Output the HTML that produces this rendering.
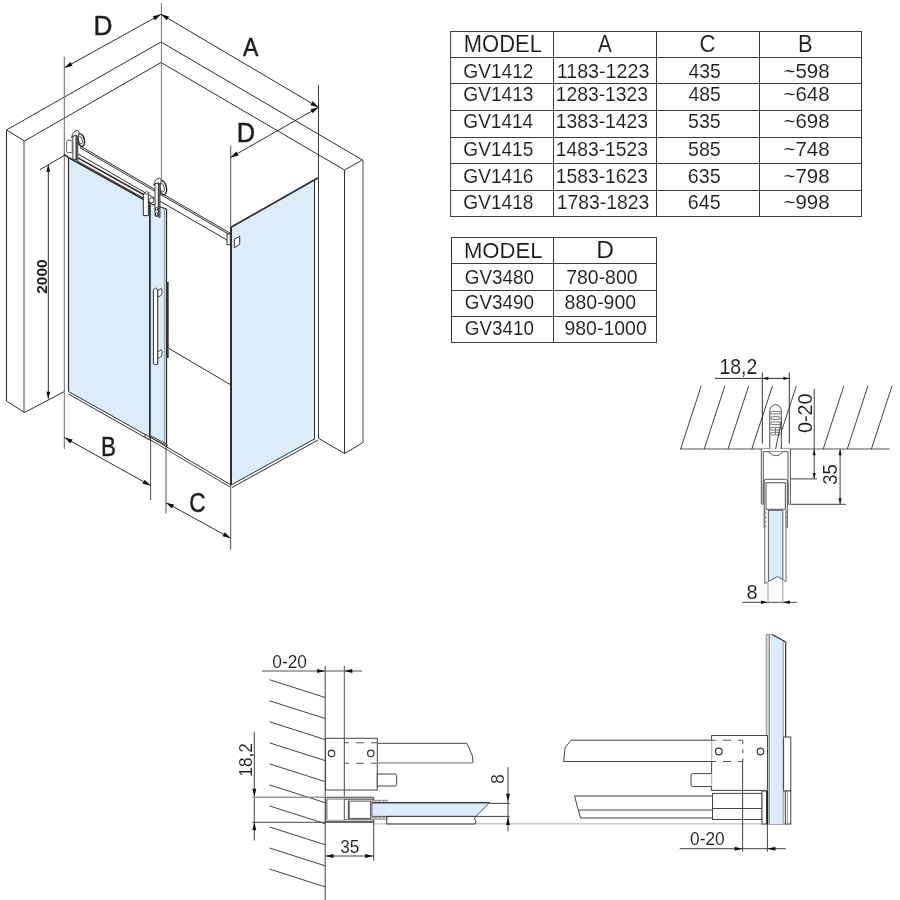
<!DOCTYPE html>
<html><head><meta charset="utf-8"><style>
html,body{margin:0;padding:0;background:#fff;width:900px;height:900px;overflow:hidden}
svg{display:block;position:absolute;left:0;top:0}
text{font-family:"Liberation Sans",sans-serif}
#ov{will-change:transform}
</style></head><body>
<svg width="900" height="900" viewBox="0 0 900 900">
<rect width="900" height="900" fill="#fff"/>
<line x1="450.60" y1="31.00" x2="450.60" y2="217.00" stroke="#3c3c3c" stroke-width="1"/>
<line x1="553.50" y1="31.00" x2="553.50" y2="217.00" stroke="#3c3c3c" stroke-width="1"/>
<line x1="656.50" y1="31.00" x2="656.50" y2="217.00" stroke="#3c3c3c" stroke-width="1"/>
<line x1="759.50" y1="31.00" x2="759.50" y2="217.00" stroke="#3c3c3c" stroke-width="1"/>
<line x1="861.50" y1="31.00" x2="861.50" y2="217.00" stroke="#3c3c3c" stroke-width="1"/>
<line x1="450.60" y1="31.50" x2="861.50" y2="31.50" stroke="#3c3c3c" stroke-width="1"/>
<line x1="450.60" y1="57.50" x2="861.50" y2="57.50" stroke="#3c3c3c" stroke-width="1"/>
<line x1="450.60" y1="83.50" x2="861.50" y2="83.50" stroke="#3c3c3c" stroke-width="1"/>
<line x1="450.60" y1="110.50" x2="861.50" y2="110.50" stroke="#3c3c3c" stroke-width="1"/>
<line x1="450.60" y1="137.50" x2="861.50" y2="137.50" stroke="#3c3c3c" stroke-width="1"/>
<line x1="450.60" y1="163.50" x2="861.50" y2="163.50" stroke="#3c3c3c" stroke-width="1"/>
<line x1="450.60" y1="190.50" x2="861.50" y2="190.50" stroke="#3c3c3c" stroke-width="1"/>
<line x1="450.60" y1="216.50" x2="861.50" y2="216.50" stroke="#3c3c3c" stroke-width="1"/>




























<line x1="451.50" y1="237.00" x2="451.50" y2="343.00" stroke="#3c3c3c" stroke-width="1"/>
<line x1="553.50" y1="237.00" x2="553.50" y2="343.00" stroke="#3c3c3c" stroke-width="1"/>
<line x1="656.50" y1="237.00" x2="656.50" y2="343.00" stroke="#3c3c3c" stroke-width="1"/>
<line x1="451.50" y1="237.50" x2="656.50" y2="237.50" stroke="#3c3c3c" stroke-width="1"/>
<line x1="451.50" y1="263.50" x2="656.50" y2="263.50" stroke="#3c3c3c" stroke-width="1"/>
<line x1="451.50" y1="290.50" x2="656.50" y2="290.50" stroke="#3c3c3c" stroke-width="1"/>
<line x1="451.50" y1="316.50" x2="656.50" y2="316.50" stroke="#3c3c3c" stroke-width="1"/>
<line x1="451.50" y1="342.50" x2="656.50" y2="342.50" stroke="#3c3c3c" stroke-width="1"/>








<polygon points="68.50,157.50 149.50,202.70 149.50,437.00 68.50,391.50" fill="#dcecfa" stroke="none" stroke-width="1"/>
<polygon points="150.50,203.50 166.30,209.00 166.30,444.00 150.50,437.50" fill="#dcecfa" stroke="none" stroke-width="1"/>
<polygon points="231.00,227.30 314.50,179.80 314.50,438.90 231.00,485.00" fill="#dcecfa" stroke="none" stroke-width="1"/>
<polyline points="6.50,130.00 161.00,42.00 362.50,160.00" stroke="#2e2e2e" stroke-width="1" fill="none" stroke-linejoin="round"/>
<polyline points="24.50,141.00 161.00,62.50 344.50,170.00" stroke="#2e2e2e" stroke-width="1" fill="none" stroke-linejoin="round"/>
<line x1="6.50" y1="130.00" x2="24.50" y2="141.00" stroke="#2e2e2e" stroke-width="1"/>
<line x1="344.50" y1="170.00" x2="362.50" y2="160.00" stroke="#2e2e2e" stroke-width="1"/>
<line x1="6.50" y1="130.00" x2="6.50" y2="401.00" stroke="#2e2e2e" stroke-width="1"/>
<line x1="24.00" y1="141.00" x2="24.00" y2="412.50" stroke="#555" stroke-width="1.1"/>
<polyline points="6.50,401.00 24.50,412.50 64.50,391.50" stroke="#2e2e2e" stroke-width="1" fill="none" stroke-linejoin="round"/>
<line x1="363.00" y1="160.00" x2="363.00" y2="443.00" stroke="#5a5a5a" stroke-width="1.1"/>
<line x1="344.50" y1="170.00" x2="344.50" y2="453.50" stroke="#2e2e2e" stroke-width="1"/>
<polyline points="318.50,438.30 344.50,453.50 362.70,442.80" stroke="#2e2e2e" stroke-width="1" fill="none" stroke-linejoin="round"/>
<line x1="169.00" y1="348.50" x2="231.00" y2="385.00" stroke="#2e2e2e" stroke-width="1"/>
<line x1="161.40" y1="3.00" x2="161.40" y2="179.00" stroke="#777" stroke-width="1"/>
<line x1="161.00" y1="14.30" x2="64.50" y2="67.80" stroke="#2e2e2e" stroke-width="1"/>
<polygon points="161.00,14.30 155.12,20.19 152.89,16.17" fill="#111"/>
<polygon points="64.50,67.80 70.38,61.91 72.61,65.93" fill="#111"/>
<line x1="161.00" y1="14.30" x2="318.50" y2="107.30" stroke="#2e2e2e" stroke-width="1"/>
<polygon points="161.00,14.30 169.06,16.39 166.72,20.35" fill="#111"/>
<polygon points="318.50,107.30 310.44,105.21 312.78,101.25" fill="#111"/>
<line x1="64.30" y1="56.50" x2="64.30" y2="449.00" stroke="#6a6a6a" stroke-width="1"/>
<line x1="318.50" y1="85.00" x2="318.50" y2="438.30" stroke="#3a3a3a" stroke-width="1"/>
<line x1="230.50" y1="157.50" x2="318.50" y2="107.30" stroke="#2e2e2e" stroke-width="1"/>
<polygon points="230.50,157.50 236.31,151.54 238.59,155.53" fill="#111"/>
<polygon points="318.50,107.30 312.69,113.26 310.41,109.27" fill="#111"/>
<line x1="230.70" y1="145.50" x2="230.70" y2="550.00" stroke="#505050" stroke-width="1"/>



<line x1="48.30" y1="164.80" x2="48.30" y2="398.80" stroke="#2e2e2e" stroke-width="1"/>
<polygon points="48.30,164.80 50.30,171.80 46.30,171.80" fill="#111"/>
<polygon points="48.30,398.80 46.30,391.80 50.30,391.80" fill="#111"/>
<line x1="40.00" y1="169.70" x2="65.00" y2="155.00" stroke="#2e2e2e" stroke-width="1"/>

<line x1="64.50" y1="437.60" x2="150.60" y2="485.60" stroke="#2e2e2e" stroke-width="1"/>
<polygon points="64.50,437.60 72.61,439.49 70.37,443.50" fill="#111"/>
<polygon points="150.60,485.60 142.49,483.71 144.73,479.70" fill="#111"/>
<line x1="150.60" y1="437.00" x2="150.60" y2="500.00" stroke="#505050" stroke-width="1"/>

<line x1="166.00" y1="502.70" x2="230.70" y2="538.20" stroke="#2e2e2e" stroke-width="1"/>
<polygon points="166.00,502.70 174.12,504.53 171.91,508.56" fill="#111"/>
<polygon points="230.70,538.20 222.58,536.37 224.79,532.34" fill="#111"/>
<line x1="166.00" y1="444.00" x2="166.00" y2="513.50" stroke="#505050" stroke-width="1"/>

<line x1="68.50" y1="157.50" x2="68.50" y2="391.50" stroke="#2e2e2e" stroke-width="1.2"/>
<line x1="149.60" y1="202.50" x2="149.60" y2="437.00" stroke="#2e2e2e" stroke-width="1.2"/>
<line x1="150.30" y1="203.50" x2="150.30" y2="437.50" stroke="#2e2e2e" stroke-width="0.9"/>
<line x1="166.50" y1="209.00" x2="166.50" y2="444.00" stroke="#2e2e2e" stroke-width="1.3"/>
<line x1="164.40" y1="208.50" x2="164.40" y2="443.00" stroke="#888" stroke-width="0.8"/>
<line x1="231.00" y1="227.30" x2="231.00" y2="485.00" stroke="#2e2e2e" stroke-width="2"/>
<line x1="314.50" y1="179.80" x2="314.50" y2="438.90" stroke="#2e2e2e" stroke-width="1"/>
<line x1="314.50" y1="179.80" x2="318.50" y2="177.60" stroke="#2e2e2e" stroke-width="1"/>
<line x1="68.50" y1="157.50" x2="150.00" y2="203.00" stroke="#2e2e2e" stroke-width="1.6"/>
<line x1="150.50" y1="203.50" x2="166.50" y2="209.00" stroke="#2e2e2e" stroke-width="1.3"/>
<line x1="231.00" y1="227.30" x2="317.70" y2="178.00" stroke="#2e2e2e" stroke-width="1.7"/>
<line x1="68.50" y1="391.50" x2="149.60" y2="437.00" stroke="#2e2e2e" stroke-width="1"/>
<line x1="68.50" y1="394.00" x2="149.60" y2="440.00" stroke="#2e2e2e" stroke-width="1"/>
<line x1="150.00" y1="437.00" x2="231.00" y2="485.00" stroke="#2e2e2e" stroke-width="1"/>
<line x1="150.00" y1="439.70" x2="230.00" y2="487.00" stroke="#2e2e2e" stroke-width="0.9"/>
<line x1="231.00" y1="485.00" x2="315.00" y2="438.70" stroke="#2e2e2e" stroke-width="1"/>
<line x1="232.00" y1="487.50" x2="318.00" y2="440.00" stroke="#2e2e2e" stroke-width="1"/>
<path d="M145,434.5 L149.6,437 L149.6,439.5 L145,437 Z" stroke="#2e2e2e" stroke-width="0.8" fill="#fff" />
<path d="M151,436 L166.5,444 L167.5,446 L152,438 Z" stroke="#2e2e2e" stroke-width="0.9" fill="#fff" />
<line x1="80.00" y1="145.87" x2="230.30" y2="233.30" stroke="#2e2e2e" stroke-width="1"/>
<line x1="80.00" y1="147.67" x2="230.30" y2="235.10" stroke="#2e2e2e" stroke-width="1"/>
<line x1="78.00" y1="153.87" x2="227.00" y2="240.00" stroke="#2e2e2e" stroke-width="1"/>
<line x1="77.50" y1="157.60" x2="143.50" y2="194.56" stroke="#2e2e2e" stroke-width="1.6"/>
<line x1="77.50" y1="161.10" x2="143.50" y2="198.06" stroke="#2e2e2e" stroke-width="1"/>
<rect x="227.00" y="234.00" width="3.30" height="10.70" stroke="#2e2e2e" stroke-width="1" fill="#fff" />
<polygon points="234.30,239.30 239.70,236.30 239.70,244.30 234.30,247.70" stroke="#2e2e2e" stroke-width="1" fill="#fff" stroke-linejoin="round"/>
<ellipse cx="81.0" cy="140.2" rx="3.4" ry="6.4" transform="rotate(-12 81.0 140.2)" fill="#fff" stroke="#222" stroke-width="1.4"/>
<ellipse cx="80.4" cy="140.2" rx="1.87" ry="3.84" transform="rotate(-12 81.0 140.2)" fill="none" stroke="#444" stroke-width="0.9"/>
<path d="M76.0,135.2 L77.8,136.7 L77.8,160.7 L76.0,159.7 Z" stroke="#2a2a2a" stroke-width="0.8" fill="#8a8a8a" />
<path d="M72.9,136.2 L76.0,135.2 L76.0,159.7 L72.9,159.2 Z" stroke="#2a2a2a" stroke-width="0.9" fill="#fff" />
<path d="M71.7,137.7 Q72.4,131.2 77.0,130.39999999999998 Q80.3,131.0 78.1,136.7 L76.0,135.2 L72.9,136.2 Z" stroke="#2a2a2a" stroke-width="0.9" fill="#fff" />
<path d="M67.8,140.3 L71.2,140.3 Q72.2,140.3 72.2,141.3 L72.2,152.6 L67.6,152.6 Q66.7,152.6 66.7,151.6 L66.7,141.3 Q66.7,140.3 67.8,140.3 Z" stroke="#555" stroke-width="0.9" fill="#fff" />
<line x1="64.00" y1="154.30" x2="68.50" y2="157.50" stroke="#2e2e2e" stroke-width="1.6"/>
<path d="M143.3,215.6 L143.3,194 L146,192.2 L148.3,194 L148.3,215.6 Z" stroke="#2e2e2e" stroke-width="1" fill="#fff" />
<path d="M143.3,194 L146.5,191.5 L149.5,193 L148.3,194 Z" stroke="#2e2e2e" stroke-width="0.8" fill="#fff" />
<ellipse cx="151.4" cy="200.3" rx="2.4" ry="2.5" fill="#fff" stroke="#333" stroke-width="0.9"/>
<ellipse cx="162.7" cy="187.6" rx="3.7" ry="7.2" transform="rotate(-12 162.7 187.6)" fill="#fff" stroke="#222" stroke-width="1.4"/>
<ellipse cx="162.1" cy="187.6" rx="2.035" ry="4.32" transform="rotate(-12 162.7 187.6)" fill="none" stroke="#444" stroke-width="0.9"/>
<path d="M158.3,182.8 L160.0,184.3 L160.0,217.5 L158.3,216.5 Z" stroke="#2a2a2a" stroke-width="0.8" fill="#8a8a8a" />
<path d="M155.0,183.8 L158.3,182.8 L158.3,216.5 L155.0,216.0 Z" stroke="#2a2a2a" stroke-width="0.9" fill="#fff" />
<path d="M153.8,185.3 Q154.5,178.8 159.3,178.0 Q162.5,178.60000000000002 160.3,184.3 L158.3,182.8 L155.0,183.8 Z" stroke="#2a2a2a" stroke-width="0.9" fill="#fff" />
<circle cx="156.6" cy="208.9" r="1.3" stroke="#222" stroke-width="0.9" fill="none"/>
<circle cx="156.6" cy="214.2" r="1.3" stroke="#222" stroke-width="0.9" fill="none"/>
<path d="M157.7,290.5 L161.3,288.6 Q162.3,289.5 162,292.5 L161.3,295.3 L157.7,297.2 Z" stroke="#2e2e2e" stroke-width="0.9" fill="#fff" />
<path d="M157.7,351.8 L161.3,349.9 Q162.3,350.8 162,353.8 L161.3,356.6 L157.7,358.5 Z" stroke="#2e2e2e" stroke-width="0.9" fill="#fff" />
<path d="M153.4,289.8 L155.5,288.2 L157.7,289.5 L157.7,364.2 L155.5,364.6 L153.4,363.8 Z" stroke="#2e2e2e" stroke-width="1" fill="#fff" />
<line x1="167.80" y1="282.00" x2="167.80" y2="358.00" stroke="#333" stroke-width="1.8"/>
<line x1="680.00" y1="449.00" x2="889.50" y2="449.00" stroke="#555" stroke-width="1"/>
<line x1="701.20" y1="386.00" x2="680.60" y2="449.00" stroke="#2e2e2e" stroke-width="0.9"/>
<line x1="724.80" y1="386.00" x2="704.20" y2="449.00" stroke="#2e2e2e" stroke-width="0.9"/>
<line x1="748.60" y1="386.00" x2="728.00" y2="449.00" stroke="#2e2e2e" stroke-width="0.9"/>
<line x1="772.40" y1="386.00" x2="751.80" y2="449.00" stroke="#2e2e2e" stroke-width="0.9"/>
<line x1="796.30" y1="386.00" x2="775.70" y2="449.00" stroke="#2e2e2e" stroke-width="0.9"/>
<line x1="843.80" y1="386.00" x2="823.20" y2="449.00" stroke="#2e2e2e" stroke-width="0.9"/>
<line x1="867.90" y1="386.00" x2="847.30" y2="449.00" stroke="#2e2e2e" stroke-width="0.9"/>
<line x1="892.00" y1="386.00" x2="871.40" y2="449.00" stroke="#2e2e2e" stroke-width="0.9"/>
<path d="M769.8,449 L769.8,410.5 A5.75,5.75 0 0 1 781.3,410.5 L781.3,449" stroke="#444" stroke-width="1" fill="#fff" />
<rect x="770.80" y="411.40" width="9.50" height="2.60" stroke="#555" stroke-width="0.8" fill="none"  rx="1.3"/>
<rect x="770.80" y="416.70" width="9.50" height="2.60" stroke="#555" stroke-width="0.8" fill="none"  rx="1.3"/>
<rect x="770.80" y="422.00" width="9.50" height="2.60" stroke="#555" stroke-width="0.8" fill="none"  rx="1.3"/>
<rect x="770.80" y="427.40" width="9.50" height="2.60" stroke="#555" stroke-width="0.8" fill="none"  rx="1.3"/>
<rect x="770.80" y="432.30" width="9.50" height="2.60" stroke="#555" stroke-width="0.8" fill="none"  rx="1.3"/>
<line x1="775.50" y1="427.50" x2="775.50" y2="434.50" stroke="#555" stroke-width="0.8"/>
<line x1="781.30" y1="421.50" x2="775.60" y2="449.00" stroke="#2e2e2e" stroke-width="0.9"/>
<line x1="715.00" y1="378.40" x2="789.30" y2="378.40" stroke="#2e2e2e" stroke-width="1"/>
<polygon points="762.30,378.40 768.30,376.80 768.30,380.00" fill="#111"/>
<polygon points="789.30,378.40 783.30,380.00 783.30,376.80" fill="#111"/>
<line x1="762.30" y1="372.60" x2="762.30" y2="443.50" stroke="#2e2e2e" stroke-width="1"/>
<line x1="789.30" y1="372.60" x2="789.30" y2="443.50" stroke="#2e2e2e" stroke-width="1"/>

<path d="M761.3,449 L761.3,503 Q761.3,504.5 762.3,504.5 Q763.3,504.5 763.3,503 L763.3,451.7 L788,451.7 L788,503 Q788,504.5 789.2,504.5 Q790.4,504.5 790.4,503 L790.4,449" stroke="#555" stroke-width="1" fill="#fff" />
<path d="M768.7,451.7 Q776,460 783.3,451.7" stroke="#555" stroke-width="1" fill="#fff" />
<path d="M764.2,528 L764.2,481 Q764.2,479.3 766,479.3 L785.5,479.3 Q787.3,479.3 787.3,481 L787.3,528" stroke="#555" stroke-width="1" fill="#fff" />
<rect x="766.00" y="482.70" width="19.30" height="26.60" stroke="#555" stroke-width="1" fill="#fff" />
<path d="M764.2,481 Q762.5,483 763,487 L763,503 M787.3,481 Q789,483 788.5,487 L788.5,503" stroke="#777" stroke-width="0.8" fill="none" />
<line x1="764.20" y1="513.00" x2="766.50" y2="513.00" stroke="#666" stroke-width="0.8"/>
<line x1="785.00" y1="513.00" x2="787.30" y2="513.00" stroke="#666" stroke-width="0.8"/>
<line x1="764.20" y1="517.50" x2="766.50" y2="517.50" stroke="#666" stroke-width="0.8"/>
<line x1="785.00" y1="517.50" x2="787.30" y2="517.50" stroke="#666" stroke-width="0.8"/>
<line x1="764.20" y1="522.00" x2="766.50" y2="522.00" stroke="#666" stroke-width="0.8"/>
<line x1="785.00" y1="522.00" x2="787.30" y2="522.00" stroke="#666" stroke-width="0.8"/>
<line x1="764.20" y1="526.50" x2="766.50" y2="526.50" stroke="#666" stroke-width="0.8"/>
<line x1="785.00" y1="526.50" x2="787.30" y2="526.50" stroke="#666" stroke-width="0.8"/>
<polygon points="768.40,510.30 782.80,510.30 782.80,579.50 777.40,576.60 768.40,581.60" fill="#dcecfa" stroke="#555" stroke-width="1"/>
<line x1="764.80" y1="510.00" x2="764.80" y2="583.60" stroke="#666" stroke-width="1"/>
<line x1="786.00" y1="510.00" x2="786.00" y2="581.70" stroke="#666" stroke-width="1"/>
<line x1="764.80" y1="583.60" x2="768.40" y2="581.60" stroke="#666" stroke-width="1"/>
<line x1="782.80" y1="579.50" x2="786.00" y2="581.70" stroke="#666" stroke-width="1"/>
<line x1="814.20" y1="389.00" x2="814.20" y2="479.00" stroke="#444" stroke-width="1"/>
<polygon points="814.20,449.30 815.80,455.30 812.60,455.30" fill="#111"/>
<polygon points="814.20,478.90 812.60,472.90 815.80,472.90" fill="#111"/>
<line x1="790.50" y1="478.90" x2="817.00" y2="478.90" stroke="#444" stroke-width="1"/>

<line x1="840.10" y1="449.30" x2="840.10" y2="504.30" stroke="#444" stroke-width="1"/>
<polygon points="840.10,449.30 841.70,455.30 838.50,455.30" fill="#111"/>
<polygon points="840.10,504.30 838.50,498.30 841.70,498.30" fill="#111"/>
<line x1="790.50" y1="504.30" x2="846.00" y2="504.30" stroke="#444" stroke-width="1"/>

<line x1="742.00" y1="602.30" x2="796.80" y2="602.30" stroke="#444" stroke-width="1"/>
<polygon points="768.00,602.30 761.00,604.10 761.00,600.50" fill="#111"/>
<polygon points="782.80,602.30 789.80,600.50 789.80,604.10" fill="#111"/>
<line x1="768.00" y1="583.00" x2="768.00" y2="604.00" stroke="#aaa" stroke-width="1.2"/>
<line x1="782.80" y1="580.00" x2="782.80" y2="604.00" stroke="#aaa" stroke-width="1.2"/>

<line x1="325.20" y1="665.70" x2="325.20" y2="900.00" stroke="#555" stroke-width="1.1"/>
<line x1="269.50" y1="679.70" x2="325.20" y2="697.50" stroke="#2e2e2e" stroke-width="0.9"/>
<line x1="269.50" y1="700.74" x2="325.20" y2="718.54" stroke="#2e2e2e" stroke-width="0.9"/>
<line x1="269.50" y1="721.78" x2="325.20" y2="739.58" stroke="#2e2e2e" stroke-width="0.9"/>
<line x1="269.50" y1="742.82" x2="325.20" y2="760.62" stroke="#2e2e2e" stroke-width="0.9"/>
<line x1="269.50" y1="763.86" x2="325.20" y2="781.66" stroke="#2e2e2e" stroke-width="0.9"/>
<line x1="269.50" y1="784.90" x2="325.20" y2="802.70" stroke="#2e2e2e" stroke-width="0.9"/>
<line x1="269.50" y1="805.94" x2="325.20" y2="823.74" stroke="#2e2e2e" stroke-width="0.9"/>
<line x1="269.50" y1="826.98" x2="325.20" y2="844.78" stroke="#2e2e2e" stroke-width="0.9"/>
<line x1="269.50" y1="848.02" x2="325.20" y2="865.82" stroke="#2e2e2e" stroke-width="0.9"/>
<line x1="269.50" y1="869.06" x2="325.20" y2="886.86" stroke="#2e2e2e" stroke-width="0.9"/>
<line x1="261.70" y1="671.00" x2="362.30" y2="671.00" stroke="#555" stroke-width="1.1"/>
<polygon points="325.20,671.00 317.20,673.00 317.20,669.00" fill="#111"/>
<polygon points="344.30,671.00 352.30,669.00 352.30,673.00" fill="#111"/>
<line x1="344.30" y1="665.70" x2="344.30" y2="822.00" stroke="#555" stroke-width="1"/>

<rect x="325.50" y="738.30" width="51.80" height="51.70" stroke="#444" stroke-width="1" fill="#fff" />
<path d="M344.3,742.7 L377.3,742.7 M344.3,763.3 L377.3,763.3" fill="none" stroke="#555" stroke-width="1.1" stroke-dasharray="8,7" stroke-dashoffset="3.3"/>
<circle cx="331.5" cy="753.4" r="3.2" stroke="#333" stroke-width="1.2" fill="none"/>
<circle cx="370.8" cy="753.4" r="3.2" stroke="#333" stroke-width="1.2" fill="none"/>
<polyline points="377.30,743.30 466.90,743.30 472.50,756.10 473.00,762.90" stroke="#444" stroke-width="1" fill="none" stroke-linejoin="round"/>
<line x1="377.30" y1="762.90" x2="473.00" y2="762.90" stroke="#aaa" stroke-width="1.6"/>
<path d="M377.3,774 L395.2,774 Q396.7,774 396.7,775.5 L396.7,784.5 Q396.7,786 395.2,786 L377.3,786" stroke="#444" stroke-width="1" fill="#fff" />
<line x1="377.30" y1="773.00" x2="377.30" y2="787.00" stroke="#444" stroke-width="1"/>
<line x1="344.30" y1="738.30" x2="344.30" y2="790.00" stroke="#444" stroke-width="1"/>
<line x1="254.30" y1="732.00" x2="254.30" y2="840.50" stroke="#444" stroke-width="1"/>
<polygon points="254.30,796.80 252.30,788.80 256.30,788.80" fill="#111"/>
<polygon points="254.30,822.30 256.30,830.30 252.30,830.30" fill="#111"/>
<line x1="252.00" y1="797.20" x2="373.70" y2="797.20" stroke="#999" stroke-width="1.6"/>
<line x1="252.00" y1="822.30" x2="373.70" y2="822.30" stroke="#444" stroke-width="1"/>
<line x1="373.70" y1="823.80" x2="790.80" y2="823.80" stroke="#bbb" stroke-width="1.2"/>

<rect x="325.50" y="797.80" width="48.20" height="23.80" stroke="#555" stroke-width="1" fill="#fff" />
<line x1="326.80" y1="799.00" x2="326.80" y2="820.50" stroke="#888" stroke-width="1.4"/>
<line x1="327.50" y1="799.30" x2="344.30" y2="799.30" stroke="#777" stroke-width="0.7"/>
<line x1="327.50" y1="820.20" x2="344.30" y2="820.20" stroke="#777" stroke-width="0.7"/>
<rect x="344.30" y="799.30" width="28.90" height="20.50" stroke="#555" stroke-width="1" fill="#fff" />
<line x1="348.50" y1="800.50" x2="348.50" y2="819.00" stroke="#555" stroke-width="1.3"/>
<rect x="349.20" y="801.10" width="21.40" height="17.30" stroke="#555" stroke-width="1" fill="#fff" />
<rect x="372.00" y="800.20" width="3.00" height="2.20" stroke="#666" stroke-width="0.7" fill="#fff" />
<rect x="372.00" y="817.00" width="3.00" height="2.20" stroke="#666" stroke-width="0.7" fill="#fff" />
<rect x="376.00" y="800.20" width="3.00" height="2.20" stroke="#666" stroke-width="0.7" fill="#fff" />
<rect x="376.00" y="817.00" width="3.00" height="2.20" stroke="#666" stroke-width="0.7" fill="#fff" />
<rect x="380.00" y="800.20" width="3.00" height="2.20" stroke="#666" stroke-width="0.7" fill="#fff" />
<rect x="380.00" y="817.00" width="3.00" height="2.20" stroke="#666" stroke-width="0.7" fill="#fff" />
<rect x="384.00" y="800.20" width="3.00" height="2.20" stroke="#666" stroke-width="0.7" fill="#fff" />
<rect x="384.00" y="817.00" width="3.00" height="2.20" stroke="#666" stroke-width="0.7" fill="#fff" />
<polygon points="371.90,802.40 489.80,802.40 476.00,816.40 371.90,816.40" fill="#dcecfa" stroke="#555" stroke-width="1"/>
<line x1="371.90" y1="802.70" x2="489.80" y2="802.70" stroke="#444" stroke-width="1.4"/>
<polyline points="386.70,816.40 476.00,816.40 474.50,818.50 476.00,822.00 474.80,824.00 386.70,824.00 386.70,816.40" stroke="#444" stroke-width="1" fill="none" stroke-linejoin="round"/>
<line x1="508.00" y1="767.10" x2="508.00" y2="831.60" stroke="#444" stroke-width="1"/>
<polygon points="508.00,801.80 506.00,793.80 510.00,793.80" fill="#111"/>
<polygon points="508.00,816.90 510.00,824.90 506.00,824.90" fill="#111"/>
<line x1="489.80" y1="803.40" x2="509.80" y2="803.40" stroke="#444" stroke-width="1"/>
<line x1="476.00" y1="816.40" x2="509.80" y2="816.40" stroke="#444" stroke-width="1"/>

<line x1="325.20" y1="856.00" x2="373.70" y2="856.00" stroke="#444" stroke-width="1.1"/>
<polygon points="325.50,856.00 333.50,853.90 333.50,858.10" fill="#111"/>
<polygon points="373.20,856.00 365.20,858.10 365.20,853.90" fill="#111"/>
<line x1="373.70" y1="821.60" x2="373.70" y2="860.70" stroke="#444" stroke-width="1"/>

<polygon points="766.30,634.60 772.10,634.60 785.70,642.10 785.70,824.00 766.30,824.00" fill="#f4f4f4" stroke="#777" stroke-width="1"/>
<rect x="766.80" y="635.50" width="2.20" height="188.50" stroke="none" stroke-width="0" fill="#dcdcdc" />
<polygon points="769.50,634.60 772.10,634.60 783.00,640.60 783.00,824.00 769.50,824.00" fill="#dcecfa" stroke="none" stroke-width="1"/>
<line x1="769.30" y1="634.80" x2="769.30" y2="824.00" stroke="#666" stroke-width="0.9"/>
<line x1="783.20" y1="640.80" x2="783.20" y2="824.00" stroke="#888" stroke-width="0.8"/>
<line x1="785.70" y1="642.10" x2="785.70" y2="824.00" stroke="#333" stroke-width="1"/>
<line x1="772.10" y1="634.60" x2="785.70" y2="642.10" stroke="#333" stroke-width="1.1"/>
<rect x="783.60" y="737.00" width="7.20" height="54.00" stroke="#444" stroke-width="1" fill="#fff" />
<rect x="785.40" y="791.00" width="5.40" height="33.00" stroke="#444" stroke-width="1" fill="#fff" />
<line x1="787.50" y1="791.00" x2="787.50" y2="824.00" stroke="#888" stroke-width="0.8"/>
<rect x="711.60" y="735.50" width="55.90" height="54.90" stroke="#444" stroke-width="1" fill="#fff" />
<path d="M711.6,740.2 L742.8,740.2 M711.6,761.5 L742.8,761.5" fill="none" stroke="#555" stroke-width="1.1" stroke-dasharray="8,7" stroke-dashoffset="3.5"/>
<path d="M742.8,740.5 L742.8,761.5" fill="none" stroke="#555" stroke-width="1.1" stroke-dasharray="3.5,5.5"/>
<circle cx="718.8" cy="751.5" r="3.3" stroke="#333" stroke-width="1.2" fill="none"/>
<circle cx="760.5" cy="751.5" r="3.3" stroke="#333" stroke-width="1.2" fill="none"/>
<path d="M711.6,740.2 L571,740.2 L565.2,747.5 L563.6,761.5 L711.6,761.5" stroke="#444" stroke-width="1" fill="#fff" />
<path d="M711.6,773.6 L693,773.6 Q691,773.6 691,776 L691,784 Q691,786.5 693,786.5 L711.6,786.5" stroke="#444" stroke-width="1" fill="#fff" />
<polyline points="712.50,796.00 574.50,796.00 580.50,818.00 712.50,818.00" stroke="#444" stroke-width="1" fill="none" stroke-linejoin="round"/>
<line x1="578.00" y1="810.00" x2="712.50" y2="810.00" stroke="#444" stroke-width="1"/>
<rect x="712.50" y="793.40" width="49.50" height="26.10" stroke="#444" stroke-width="1" fill="#fff" />
<line x1="712.50" y1="808.50" x2="762.00" y2="808.50" stroke="#444" stroke-width="1"/>
<rect x="762.00" y="791.00" width="4.50" height="33.00" stroke="#444" stroke-width="1" fill="#fff" />
<line x1="767.40" y1="791.00" x2="767.40" y2="824.00" stroke="#222" stroke-width="1.4"/>
<line x1="679.70" y1="848.70" x2="785.70" y2="848.70" stroke="#444" stroke-width="1"/>
<polygon points="742.60,848.70 734.60,850.70 734.60,846.70" fill="#111"/>
<polygon points="767.40,848.70 775.40,846.70 775.40,850.70" fill="#111"/>
<line x1="742.60" y1="761.00" x2="742.60" y2="851.70" stroke="#444" stroke-width="1"/>
<line x1="767.40" y1="824.00" x2="767.40" y2="851.70" stroke="#444" stroke-width="1"/>

</svg>
<svg id="ov" width="900" height="900" viewBox="0 0 900 900">
<text transform="translate(463.844 51.766) scale(0.21948 0.23380)" font-size="100" font-weight="normal" fill="#1c1c1c" stroke="#fff" stroke-width="0.34">MODEL</text>
<text transform="translate(598.100 51.800) scale(0.20455 0.24348)" font-size="100" font-weight="normal" fill="#1c1c1c" stroke="#fff" stroke-width="0.33">A</text>
<text transform="translate(699.389 51.761) scale(0.22222 0.23944)" font-size="100" font-weight="normal" fill="#1c1c1c" stroke="#fff" stroke-width="0.33">C</text>
<text transform="translate(797.949 51.800) scale(0.21887 0.23913)" font-size="100" font-weight="normal" fill="#1c1c1c" stroke="#fff" stroke-width="0.33">B</text>
<text transform="translate(463.343 77.799) scale(0.19132 0.20141)" font-size="100" font-weight="normal" fill="#1c1c1c" stroke="#fff" stroke-width="0.40">GV1412</text>
<text transform="translate(556.724 77.799) scale(0.19694 0.20141)" font-size="100" font-weight="normal" fill="#1c1c1c" stroke="#fff" stroke-width="0.40">1183-1223</text>
<text transform="translate(688.414 77.799) scale(0.19317 0.20141)" font-size="100" font-weight="normal" fill="#1c1c1c" stroke="#fff" stroke-width="0.40">435</text>
<text transform="translate(783.475 77.799) scale(0.20509 0.20141)" font-size="100" font-weight="normal" fill="#1c1c1c" stroke="#fff" stroke-width="0.39">~598</text>
<text transform="translate(463.343 101.003) scale(0.19132 0.19718)" font-size="100" font-weight="normal" fill="#1c1c1c" stroke="#fff" stroke-width="0.41">GV1413</text>
<text transform="translate(555.755 101.003) scale(0.19313 0.19718)" font-size="100" font-weight="normal" fill="#1c1c1c" stroke="#fff" stroke-width="0.41">1283-1323</text>
<text transform="translate(688.414 101.003) scale(0.19317 0.19718)" font-size="100" font-weight="normal" fill="#1c1c1c" stroke="#fff" stroke-width="0.41">485</text>
<text transform="translate(783.475 101.003) scale(0.20509 0.19718)" font-size="100" font-weight="normal" fill="#1c1c1c" stroke="#fff" stroke-width="0.39">~648</text>
<text transform="translate(463.349 128.103) scale(0.19025 0.19718)" font-size="100" font-weight="normal" fill="#1c1c1c" stroke="#fff" stroke-width="0.41">GV1414</text>
<text transform="translate(555.755 128.103) scale(0.19313 0.19718)" font-size="100" font-weight="normal" fill="#1c1c1c" stroke="#fff" stroke-width="0.41">1383-1423</text>
<text transform="translate(688.018 128.103) scale(0.19560 0.19718)" font-size="100" font-weight="normal" fill="#1c1c1c" stroke="#fff" stroke-width="0.41">535</text>
<text transform="translate(783.475 128.103) scale(0.20509 0.19718)" font-size="100" font-weight="normal" fill="#1c1c1c" stroke="#fff" stroke-width="0.39">~698</text>
<text transform="translate(463.346 156.003) scale(0.19078 0.19718)" font-size="100" font-weight="normal" fill="#1c1c1c" stroke="#fff" stroke-width="0.41">GV1415</text>
<text transform="translate(555.755 156.003) scale(0.19313 0.19718)" font-size="100" font-weight="normal" fill="#1c1c1c" stroke="#fff" stroke-width="0.41">1483-1523</text>
<text transform="translate(688.018 156.003) scale(0.19560 0.19718)" font-size="100" font-weight="normal" fill="#1c1c1c" stroke="#fff" stroke-width="0.41">585</text>
<text transform="translate(783.475 156.003) scale(0.20509 0.19718)" font-size="100" font-weight="normal" fill="#1c1c1c" stroke="#fff" stroke-width="0.39">~748</text>
<text transform="translate(463.343 182.503) scale(0.19132 0.19718)" font-size="100" font-weight="normal" fill="#1c1c1c" stroke="#fff" stroke-width="0.41">GV1416</text>
<text transform="translate(555.755 182.503) scale(0.19313 0.19718)" font-size="100" font-weight="normal" fill="#1c1c1c" stroke="#fff" stroke-width="0.41">1583-1623</text>
<text transform="translate(687.816 182.503) scale(0.19684 0.19718)" font-size="100" font-weight="normal" fill="#1c1c1c" stroke="#fff" stroke-width="0.41">635</text>
<text transform="translate(783.475 182.503) scale(0.20509 0.19718)" font-size="100" font-weight="normal" fill="#1c1c1c" stroke="#fff" stroke-width="0.39">~798</text>
<text transform="translate(463.343 209.003) scale(0.19132 0.19718)" font-size="100" font-weight="normal" fill="#1c1c1c" stroke="#fff" stroke-width="0.41">GV1418</text>
<text transform="translate(556.752 209.003) scale(0.19356 0.19718)" font-size="100" font-weight="normal" fill="#1c1c1c" stroke="#fff" stroke-width="0.41">1783-1823</text>
<text transform="translate(687.816 209.003) scale(0.19684 0.19718)" font-size="100" font-weight="normal" fill="#1c1c1c" stroke="#fff" stroke-width="0.41">645</text>
<text transform="translate(783.475 209.003) scale(0.20509 0.19718)" font-size="100" font-weight="normal" fill="#1c1c1c" stroke="#fff" stroke-width="0.39">~998</text>
<text transform="translate(463.933 258.175) scale(0.22093 0.22535)" font-size="100" font-weight="normal" fill="#1c1c1c" stroke="#fff" stroke-width="0.36">MODEL</text>
<text transform="translate(596.334 258.400) scale(0.24576 0.23188)" font-size="100" font-weight="normal" fill="#1c1c1c" stroke="#fff" stroke-width="0.33">D</text>
<text transform="translate(464.757 283.806) scale(0.18855 0.19437)" font-size="100" font-weight="normal" fill="#1c1c1c" stroke="#fff" stroke-width="0.41">GV3480</text>
<text transform="translate(566.228 283.806) scale(0.19441 0.19437)" font-size="100" font-weight="normal" fill="#1c1c1c" stroke="#fff" stroke-width="0.41">780-800</text>
<text transform="translate(464.757 308.503) scale(0.18855 0.19718)" font-size="100" font-weight="normal" fill="#1c1c1c" stroke="#fff" stroke-width="0.41">GV3490</text>
<text transform="translate(564.620 308.503) scale(0.19499 0.19718)" font-size="100" font-weight="normal" fill="#1c1c1c" stroke="#fff" stroke-width="0.41">880-900</text>
<text transform="translate(464.757 334.906) scale(0.18855 0.19437)" font-size="100" font-weight="normal" fill="#1c1c1c" stroke="#fff" stroke-width="0.41">GV3410</text>
<text transform="translate(564.425 334.906) scale(0.19493 0.19437)" font-size="100" font-weight="normal" fill="#1c1c1c" stroke="#fff" stroke-width="0.41">980-1000</text>
<text transform="translate(93.598 34.700) scale(0.26271 0.27101)" font-size="100" font-weight="normal" fill="#1c1c1c" stroke="#1c1c1c" stroke-width="1.66">D</text>
<text transform="translate(243.100 55.800) scale(0.23030 0.26522)" font-size="100" font-weight="normal" fill="#1c1c1c" stroke="#1c1c1c" stroke-width="1.70">A</text>
<text transform="translate(236.666 141.700) scale(0.25424 0.27101)" font-size="100" font-weight="normal" fill="#1c1c1c" stroke="#1c1c1c" stroke-width="1.66">D</text>
<text transform="translate(47.352 293.765) rotate(-90) scale(0.15488 0.14789)" font-size="100" font-weight="bold" fill="#1c1c1c" stroke="#fff" stroke-width="0.00">2000</text>
<text transform="translate(101.004 455.800) scale(0.22453 0.26957)" font-size="100" font-weight="normal" fill="#1c1c1c" stroke="#1c1c1c" stroke-width="1.67">B</text>
<text transform="translate(189.265 512.432) scale(0.22698 0.26761)" font-size="100" font-weight="normal" fill="#1c1c1c" stroke="#1c1c1c" stroke-width="1.68">C</text>
<text transform="translate(719.444 373.912) scale(0.19451 0.21446)" font-size="100" font-weight="normal" fill="#1c1c1c" stroke="#fff" stroke-width="0.37">18,2</text>
<text transform="translate(812.389 432.988) rotate(-90) scale(0.19688 0.21127)" font-size="100" font-weight="normal" fill="#1c1c1c" stroke="#fff" stroke-width="0.38">0-20</text>
<text transform="translate(836.789 484.634) rotate(-90) scale(0.18350 0.21127)" font-size="100" font-weight="normal" fill="#1c1c1c" stroke="#fff" stroke-width="0.38">35</text>
<text transform="translate(746.600 599.397) scale(0.20000 0.20282)" font-size="100" font-weight="normal" fill="#1c1c1c" stroke="#fff" stroke-width="0.39">8</text>
<text transform="translate(272.306 667.521) scale(0.17344 0.17887)" font-size="100" font-weight="normal" fill="#1c1c1c" stroke="#fff" stroke-width="0.45">0-20</text>
<text transform="translate(251.794 776.676) rotate(-90) scale(0.17198 0.19277)" font-size="100" font-weight="normal" fill="#1c1c1c" stroke="#fff" stroke-width="0.41">18,2</text>
<text transform="translate(504.225 783.781) rotate(-90) scale(0.17021 0.17465)" font-size="100" font-weight="normal" fill="#1c1c1c" stroke="#fff" stroke-width="0.46">8</text>
<text transform="translate(340.313 852.925) scale(0.17184 0.17465)" font-size="100" font-weight="normal" fill="#1c1c1c" stroke="#fff" stroke-width="0.46">35</text>
<text transform="translate(690.006 845.123) scale(0.17344 0.17746)" font-size="100" font-weight="normal" fill="#1c1c1c" stroke="#fff" stroke-width="0.45">0-20</text>
</svg></body></html>
